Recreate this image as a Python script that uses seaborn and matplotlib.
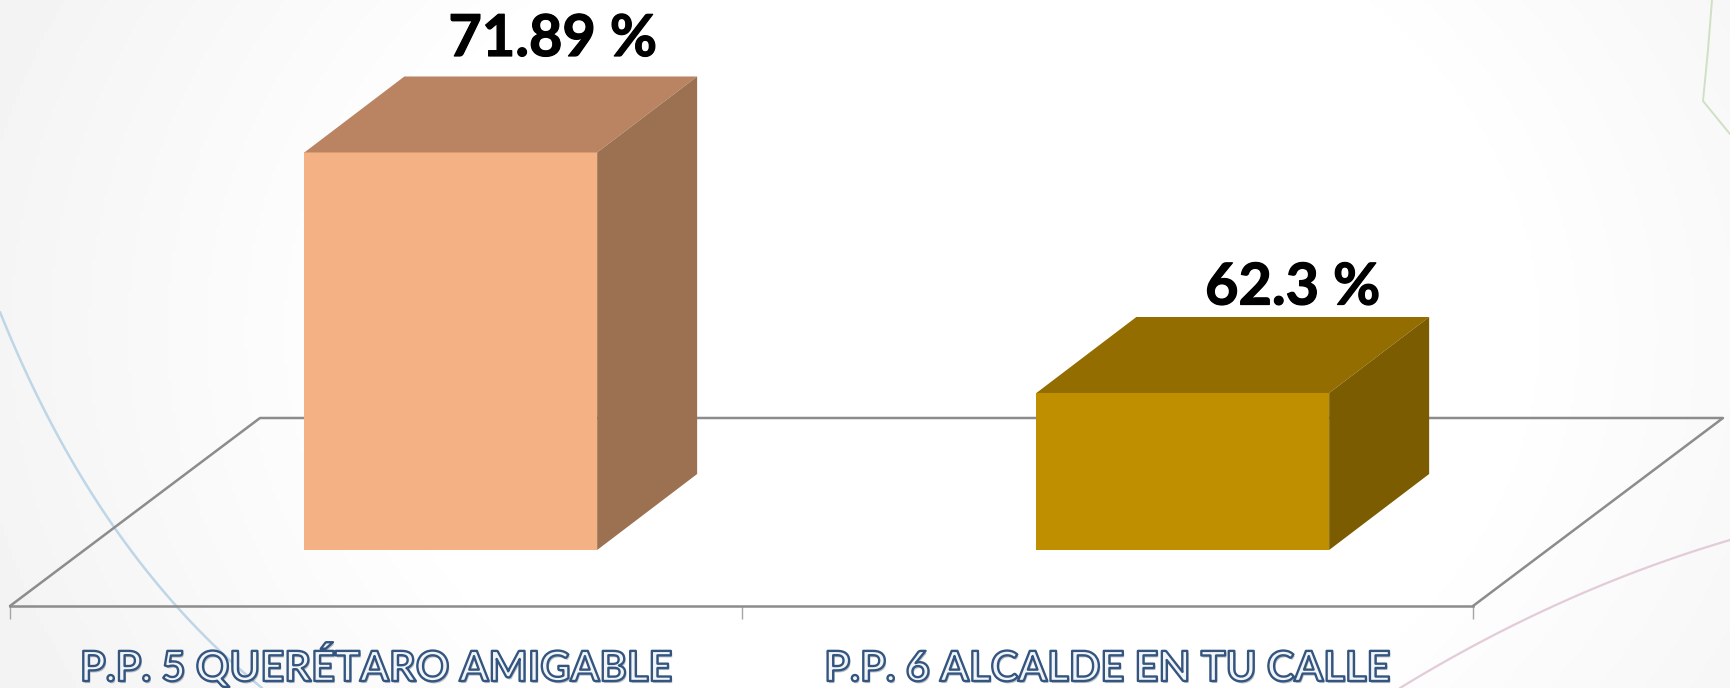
import numpy as np
import matplotlib
matplotlib.use("Agg")
import matplotlib.pyplot as plt
import matplotlib.patheffects as pe
import seaborn as sns
from matplotlib.patches import Polygon
from matplotlib.transforms import IdentityTransform

# data
programs = ["P.P. 5 QUERÉTARO AMIGABLE", "P.P. 6 ALCALDE EN TU CALLE"]
values = [71.89, 62.30]
front_colors = ["#F4B183", "#BF8F00"]
top_colors = ["#BA8463", "#936D00"]
side_colors = ["#9C7152", "#7B5C00"]

W, H = 1730, 688
BASE = 56.04          # the value axis does not start at zero
DEPTH = (100, 76)     # 3d depth in pixels
PX_PER_UNIT = 25.08
BAR_FLOOR = 550       # pixel row where the front faces stand

sns.set_theme(style="white")
plt.rcParams["font.family"] = ["Lato", "DejaVu Sans"]

fig = plt.figure(figsize=(W / 100, H / 100), dpi=100)


def px_axes(x0, y0, x1, y1, **kw):
    # axes from pixel box, y counted from the top of the picture
    return fig.add_axes([x0 / W, 1 - y1 / H, (x1 - x0) / W, (y1 - y0) / H], **kw)


class Outline(pe.AbstractPathEffect):
    # dark ring centred on the glyph edge, no fill
    def __init__(self, color, width):
        super().__init__()
        self.color = color
        self.width = width

    def draw_path(self, renderer, gc, tpath, affine, rgbFace=None):
        gc0 = renderer.new_gc()
        gc0.copy_properties(gc)
        gc0.set_foreground(self.color)
        gc0.set_linewidth(self.width)
        renderer.draw_path(gc0, tpath, affine, None)
        gc0.restore()


# --- background: very light vignette and the slide's thin curves ---
bg = px_axes(0, 0, W, H)
yy, xx = np.mgrid[0:H:4, 0:W:4]
dist = np.sqrt(((xx - 950) / 1000.0) ** 2 + ((yy - 330) / 800.0) ** 2)
shade = 1 - 0.045 * np.clip((dist - 0.55) / 0.45, 0, 1)
bg.imshow(shade, extent=(0, W, H, 0), cmap="gray", vmin=0, vmax=1, aspect="auto")
bg.set_xlim(0, W)
bg.set_ylim(H, 0)
bg.axis("off")

t = np.linspace(0, 1, 60)
bx = 2 * t * (1 - t) * 97 + t ** 2 * 262
by = (1 - t) ** 2 * 312 + 2 * t * (1 - t) * 554 + t ** 2 * 688
bg.plot(bx, by, color="#BFD6E6", lw=1.8)
px = (1 - t) ** 2 * 1400 + 2 * t * (1 - t) * 1560 + t ** 2 * 1730
py = (1 - t) ** 2 * 688 + 2 * t * (1 - t) * 590 + t ** 2 * 540
bg.plot(px, py, color="#E3CBD8", lw=1.6)
bg.plot([1712, 1708, 1703, 1730], [0, 50, 101, 134], color="#CFE0C4", lw=1.4)

# --- floor with category ticks and labels ---
floor = px_axes(10, 300, 1473, 606)
floor.patch.set_alpha(0)
floor.set_xlim(0, len(programs))
floor.set_ylim(0, 1)
sns.despine(ax=floor, left=True)
floor.spines["bottom"].set_color("#8C8C8C")
floor.spines["bottom"].set_linewidth(1.8)
floor.set_yticks([])
floor.set_xticks(np.arange(len(programs) + 1))
floor.set_xticklabels([])
floor.tick_params(axis="x", which="major", length=9.5, width=1, color="#A6A6A6", bottom=True)
floor.set_xticks(np.arange(len(programs)) + 0.5, minor=True)
floor.set_xticklabels(programs, minor=True, fontsize=30, fontweight="bold", color="#F2F5F8",
                      path_effects=[pe.SimplePatchShadow(offset=(1, -1.5), shadow_rgbFace="#1F3350",
                                                         alpha=0.3),
                                    pe.Normal(),
                                    Outline("#34557F", 1.7)])
floor.tick_params(axis="x", which="minor", length=0, pad=54)
for lab in floor.get_xticklabels(minor=True):
    lab.set_verticalalignment("baseline")

xb0, xb1 = 260, 1723
yb = 418
bg.plot([10, xb0, xb1, 1473], [606, yb, yb, 606], color="#8C8C8C", lw=1.8)

# --- bars: front faces from seaborn, side and top from the bar patches ---
ax = px_axes(0, 0, W, BAR_FLOOR)
ax.patch.set_alpha(0)
sns.barplot(x=programs, y=values, hue=programs, palette=front_colors, legend=False,
            width=0.4, saturation=1, linewidth=0, ax=ax)
ax.set_xlim(-450.75 / 732, (W - 450.75) / 732)
ax.set_ylim(BASE, BASE + BAR_FLOOR / PX_PER_UNIT)
ax.axis("off")

label_offset = [(2, 37), (10, 29)]
bars = sorted(ax.patches, key=lambda p: p.get_x())
for i, bar in enumerate(bars):
    x0 = bar.get_x()
    x1 = x0 + bar.get_width()
    (lx, ty) = ax.transData.transform((x0, values[i]))
    (rx, by_) = ax.transData.transform((x1, BASE))
    dx, dy = DEPTH
    top = Polygon([(lx, ty), (rx, ty), (rx + dx, ty + dy), (lx + dx, ty + dy)],
                  closed=True, transform=IdentityTransform(), facecolor=top_colors[i],
                  edgecolor="none", clip_on=False)
    side = Polygon([(rx, by_), (rx + dx, by_ + dy), (rx + dx, ty + dy), (rx, ty)],
                   closed=True, transform=IdentityTransform(), facecolor=side_colors[i],
                   edgecolor="none", clip_on=False)
    ax.add_patch(top)
    ax.add_patch(side)
    cx = (lx + rx) / 2 + dx + label_offset[i][0]
    cy = ty + dy + label_offset[i][1]
    ax.text(cx, cy, f"{values[i]:g} %", transform=IdentityTransform(), ha="center", va="center",
            fontsize=41.5, fontweight="bold", color="black", clip_on=False,
            path_effects=[pe.withStroke(linewidth=0.9, foreground="black")])

fig.savefig("out.png", dpi=100)
